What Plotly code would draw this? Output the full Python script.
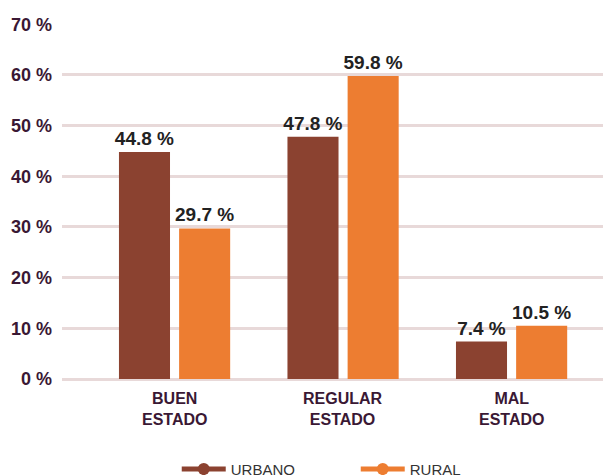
import plotly.graph_objects as go

categories = ["BUEN<br>ESTADO", "REGULAR<br>ESTADO", "MAL<br>ESTADO"]
urbano = [44.8, 47.8, 7.4]
rural = [29.7, 59.8, 10.5]
series_names = ["URBANO", "RURAL"]
y_ticks = [0, 10, 20, 30, 40, 50, 60, 70]
y_tick_text = [f"{v} %" for v in y_ticks]

C_URB = "#8b4230"
C_RUR = "#ed7d31"
TXT = "#3a1834"
FONT = "Liberation Sans, Arial, sans-serif"

xs = list(range(len(categories)))
fig = go.Figure()
for vals, color, off in [(urbano, C_URB, -0.33), (rural, C_RUR, 0.027)]:
    fig.add_trace(go.Bar(
        x=xs, y=vals, width=0.303, offset=off,
        marker=dict(color=color, line=dict(width=0)),
        text=[f"{v:.1f} %" for v in vals], textposition="outside",
        constraintext="none",
        textfont=dict(family=FONT, size=19, color="#222222", weight="bold"),
        cliponaxis=False, showlegend=False,
    ))

for name, color in zip(series_names, [C_URB, C_RUR]):
    fig.add_trace(go.Scatter(
        x=[None], y=[None], mode="lines+markers", name=name,
        line=dict(color=color, width=5), marker=dict(color=color, size=12),
    ))

for i, lab in enumerate(categories):
    fig.add_annotation(x=xs[i], y=0, xref="x", yref="y", text=f"<b>{lab}</b>",
                       showarrow=False, yanchor="middle", yshift=-30,
                       font=dict(family=FONT, size=16, color=TXT))

fig.update_layout(
    width=603, height=467,
    margin=dict(l=54, r=0, t=16, b=96, autoexpand=False),
    paper_bgcolor="white", plot_bgcolor="white",
    xaxis=dict(range=[-0.668, 2.59], showticklabels=False, showgrid=False,
               zeroline=False, showline=False, fixedrange=True),
    yaxis=dict(range=[0, 70.05], tickvals=y_ticks, ticktext=y_tick_text,
               tickfont=dict(family=FONT, size=18, color=TXT, weight="bold"),
               showgrid=True, gridcolor="#e8d9d9", gridwidth=2.5,
               zeroline=True, zerolinecolor="#e8d9d9", zerolinewidth=2.5,
               showline=False, ticks="", ticklabelstandoff=9),
    legend=dict(orientation="h", x=0.209, xanchor="left", y=-0.208, yanchor="top",
                font=dict(family=FONT, size=15, color="#333333"),
                entrywidth=120, itemwidth=44),
)

fig.write_html("out.html")
